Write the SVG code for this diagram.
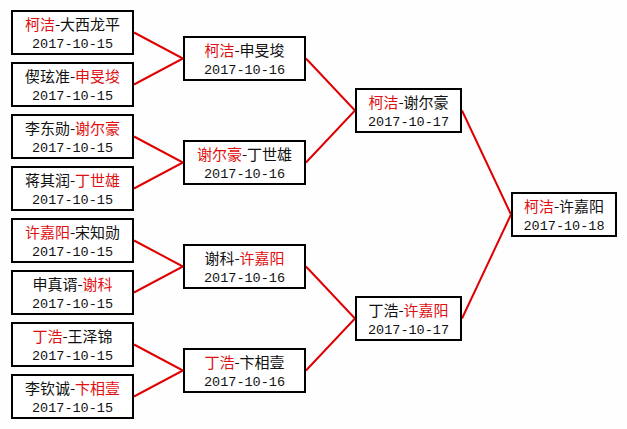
<svg xmlns="http://www.w3.org/2000/svg" width="627" height="429" viewBox="0 0 627 429">
<style>
.box{fill:#fff;stroke:#000;stroke-width:2}
.n{font-family:"Noto Sans CJK SC","Noto Sans",sans-serif;font-size:15px;fill:#111;text-anchor:middle}
.d{font-family:"Liberation Mono","DejaVu Sans Mono",monospace;font-size:13.5px;fill:#111;text-anchor:middle}
.r{fill:#e01010}
.c{stroke:#e00000;stroke-width:2;fill:none}
</style>
<rect width="627" height="429" fill="#fefefe"/>
<g id="connectors">
<path class="c" d="M134 32.5L183 58.5L134 84.5"/>
<path class="c" d="M134 136.5L183 162.5L134 188.5"/>
<path class="c" d="M134 240.5L183 266.5L134 292.5"/>
<path class="c" d="M134 344.5L183 370.5L134 396.5"/>
<path class="c" d="M306 58.5L355 110.5L306 162.5"/>
<path class="c" d="M306 266.5L355 318.5L306 370.5"/>
<path class="c" d="M462 110.5L511 214.5L462 318.5"/>
</g>
<g id="r1m1"><rect class="box" x="12" y="11" width="121" height="43"/><text class="n" x="72.5" y="30"><tspan class="r">柯洁</tspan>-大西龙平</text><text class="d" x="72.5" y="47.5">2017-10-15</text></g>
<g id="r1m2"><rect class="box" x="12" y="63" width="121" height="43"/><text class="n" x="72.5" y="82">偰玹准-<tspan class="r">申旻埈</tspan></text><text class="d" x="72.5" y="99.5">2017-10-15</text></g>
<g id="r1m3"><rect class="box" x="12" y="115" width="121" height="43"/><text class="n" x="72.5" y="134">李东勋-<tspan class="r">谢尔豪</tspan></text><text class="d" x="72.5" y="151.5">2017-10-15</text></g>
<g id="r1m4"><rect class="box" x="12" y="167" width="121" height="43"/><text class="n" x="72.5" y="186">蒋其润-<tspan class="r">丁世雄</tspan></text><text class="d" x="72.5" y="203.5">2017-10-15</text></g>
<g id="r1m5"><rect class="box" x="12" y="219" width="121" height="43"/><text class="n" x="72.5" y="238"><tspan class="r">许嘉阳</tspan>-宋知勋</text><text class="d" x="72.5" y="255.5">2017-10-15</text></g>
<g id="r1m6"><rect class="box" x="12" y="271" width="121" height="43"/><text class="n" x="72.5" y="290">申真谞-<tspan class="r">谢科</tspan></text><text class="d" x="72.5" y="307.5">2017-10-15</text></g>
<g id="r1m7"><rect class="box" x="12" y="323" width="121" height="43"/><text class="n" x="72.5" y="342"><tspan class="r">丁浩</tspan>-王泽锦</text><text class="d" x="72.5" y="359.5">2017-10-15</text></g>
<g id="r1m8"><rect class="box" x="12" y="375" width="121" height="43"/><text class="n" x="72.5" y="394">李钦诚-<tspan class="r">卞相壹</tspan></text><text class="d" x="72.5" y="411.5">2017-10-15</text></g>
<g id="r2m1"><rect class="box" x="184" y="37" width="121" height="43"/><text class="n" x="244.5" y="56"><tspan class="r">柯洁</tspan>-申旻埈</text><text class="d" x="244.5" y="73.5">2017-10-16</text></g>
<g id="r2m2"><rect class="box" x="184" y="141" width="121" height="43"/><text class="n" x="244.5" y="160"><tspan class="r">谢尔豪</tspan>-丁世雄</text><text class="d" x="244.5" y="177.5">2017-10-16</text></g>
<g id="r2m3"><rect class="box" x="184" y="245" width="121" height="43"/><text class="n" x="244.5" y="264">谢科-<tspan class="r">许嘉阳</tspan></text><text class="d" x="244.5" y="281.5">2017-10-16</text></g>
<g id="r2m4"><rect class="box" x="184" y="349" width="121" height="43"/><text class="n" x="244.5" y="368"><tspan class="r">丁浩</tspan>-卞相壹</text><text class="d" x="244.5" y="385.5">2017-10-16</text></g>
<g id="r3m1"><rect class="box" x="356" y="89" width="105" height="43"/><text class="n" x="408.5" y="108"><tspan class="r">柯洁</tspan>-谢尔豪</text><text class="d" x="408.5" y="125.5">2017-10-17</text></g>
<g id="r3m2"><rect class="box" x="356" y="297" width="105" height="43"/><text class="n" x="408.5" y="316">丁浩-<tspan class="r">许嘉阳</tspan></text><text class="d" x="408.5" y="333.5">2017-10-17</text></g>
<g id="final"><rect class="box" x="512" y="193" width="104" height="43"/><text class="n" x="564" y="212"><tspan class="r">柯洁</tspan>-许嘉阳</text><text class="d" x="564" y="229.5">2017-10-18</text></g>
</svg>
